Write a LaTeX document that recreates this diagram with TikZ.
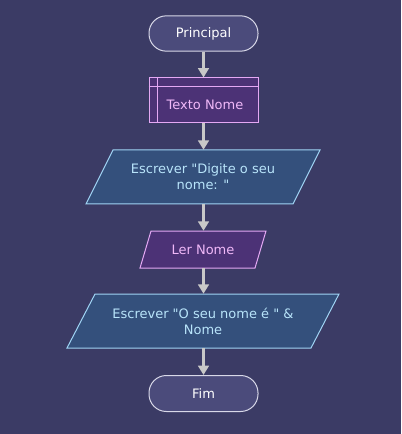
\documentclass[tikz,border=0pt]{standalone}
\usepackage{fontspec}
\setmainfont{DejaVu Sans}[Ligatures=TeXOff]
\usetikzlibrary{arrows.meta}
\definecolor{bg}{HTML}{3B3B65}
\definecolor{termfill}{HTML}{4B4B7B}
\definecolor{termline}{HTML}{D8D8E8}
\definecolor{decfill}{HTML}{4C3276}
\definecolor{decline}{HTML}{E4A8F4}
\definecolor{dectext}{HTML}{F0B8F8}
\definecolor{outfill}{HTML}{34507C}
\definecolor{outline}{HTML}{A0D4F4}
\definecolor{outtext}{HTML}{B8E4FA}
\definecolor{arrowc}{HTML}{C8C8C8}
\tikzset{
  base/.style={font=\fontsize{9.75pt}{12pt}\selectfont, inner sep=0pt, align=center},
  term/.style={base, draw=termline, fill=termfill, text=white, line width=0.75pt,
     rounded corners=13pt, minimum width=81.75pt, minimum height=26.5pt},
  decbox/.style={draw=decline, fill=decfill, line width=0.75pt},
  inbox/.style={draw=decline, fill=decfill, line width=0.75pt},
  outbox/.style={draw=outline, fill=outfill, line width=0.75pt},
  lbl/.style={base},
  flow/.style={draw=arrowc, line width=1.8pt, -{Triangle[length=7pt,width=8pt]}},
}
\begin{document}
\begin{tikzpicture}[x=0.75pt,y=-0.75pt]
\fill[bg] (0,0) rectangle (401,434);
\useasboundingbox (0,0) rectangle (401,434);

% Principal
\node[term] (p) at (203.5,33.5) {Principal};

% Texto Nome (declaration)
\node[decbox, minimum width=81.75pt, minimum height=33.75pt, inner sep=0pt] (t) at (203.5,100.5) {};
\draw[draw=decline, line width=0.75pt] ([yshift=-6.75pt]t.north west) -- ([yshift=-6.75pt]t.north east);
\draw[draw=decline, line width=0.75pt] ([xshift=6.75pt]t.north west) -- ([xshift=6.75pt]t.south west);
\node[lbl, text=dectext] (tt) at (205,105) {Texto Nome};

% Escrever 1
\draw[outbox] (113,150) -- (320,150) -- (293,204) -- (86,204) -- cycle;
\node[lbl, text=outtext, minimum height=40.5pt] (e1) at (203,177) {Escrever "Digite o seu\\nome: "};

% Ler Nome
\draw[inbox] (151,231) -- (266,231) -- (255,268) -- (140,268) -- cycle;
\node[lbl, text=dectext, minimum height=27.75pt] (l) at (203,249.5) {Ler Nome};

% Escrever 2
\draw[outbox] (95,294) -- (339,294) -- (311,348) -- (67,348) -- cycle;
\node[lbl, text=outtext, minimum height=40.5pt] (e2) at (203,321) {Escrever "O seu nome é " \&\\Nome};

% Fim
\node[term, minimum height=27pt] (f) at (203.5,393.5) {Fim};

% connectors
\draw[flow] (p.south) -- (t.north);
\draw[flow] (t.south) -- (t.south |- e1.north);
\draw[flow] (t.south |- e1.south) -- (t.south |- l.north);
\draw[flow] (t.south |- l.south) -- (t.south |- e2.north);
\draw[flow] (t.south |- e2.south) -- (f.north);
\end{tikzpicture}
\end{document}
